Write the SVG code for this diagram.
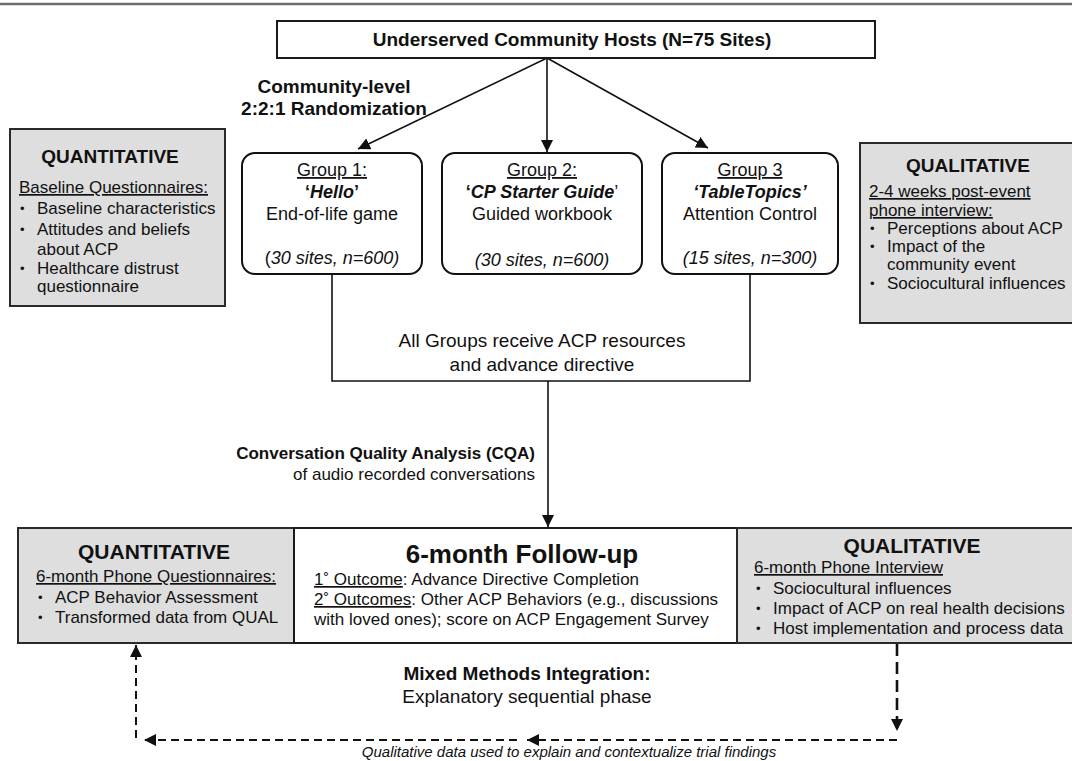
<svg xmlns="http://www.w3.org/2000/svg" width="1072" height="761" viewBox="0 0 1072 761">
  <style>
    text { font-family: "Liberation Sans", Arial, sans-serif; fill: #111; }
    .b { font-weight: bold; }
    .i { font-style: italic; }
    .u { text-decoration: underline; }
    .c { text-anchor: middle; }
    .e { text-anchor: end; }
    .box { fill: #ffffff; stroke: #1a1a1a; stroke-width: 2; }
    .gray { fill: #dedede; stroke: #2a2a2a; stroke-width: 2; }
    .grp { fill: #ffffff; stroke: #111; stroke-width: 2; }
    .line { fill: none; stroke: #111; stroke-width: 1.6; }
    .dash { fill: none; stroke: #111; stroke-width: 2; stroke-dasharray: 8 5; }
    .dashb { fill: none; stroke: #111; stroke-width: 2.6; stroke-dasharray: 12 6; }
    .t17 { font-size: 17px; }
    .t18 { font-size: 18px; }
    .t19 { font-size: 19px; }
    .bul { font-size: 13px; }
  </style>
  <defs>
    <marker id="arr" markerUnits="userSpaceOnUse" markerWidth="14" markerHeight="12" refX="12" refY="6" orient="auto">
      <path d="M0,0 L12,6 L0,12 Z" fill="#111"/>
    </marker>
  </defs>

  <!-- page rule -->
  <line x1="0" y1="4" x2="1072" y2="4" stroke="#6e6e6e" stroke-width="2.5"/>

  <!-- connectors -->
  <g id="connectors">
    <line class="line" x1="547" y1="58" x2="358" y2="149" marker-end="url(#arr)"/>
    <line class="line" x1="547" y1="58" x2="547" y2="152" marker-end="url(#arr)"/>
    <line class="line" x1="547" y1="58" x2="708" y2="148" marker-end="url(#arr)"/>
    <path class="line" d="M332,274 V381 H750 V274"/>
    <line class="line" x1="548" y1="381" x2="548" y2="527" marker-end="url(#arr)"/>
    <!-- mixed methods feedback loop -->
    <line class="dashb" x1="897" y1="644" x2="897" y2="731" marker-end="url(#arr)"/>
    <line class="dash" x1="897" y1="740" x2="527" y2="740" marker-end="url(#arr)"/>
    <line class="dash" x1="517" y1="740" x2="144" y2="740" marker-end="url(#arr)"/>
    <line class="dash" x1="136" y1="738" x2="136" y2="645" marker-end="url(#arr)"/>
  </g>

  <g id="hosts">
    <rect class="box" x="277" y="21" width="598" height="37"/>
    <text class="b c t19" x="572" y="46">Underserved Community Hosts (N=75 Sites)</text>
  </g>

  <g id="randomization">
    <text class="b c t19" x="334" y="93">Community-level</text>
    <text class="b c t19" x="334" y="115">2:2:1 Randomization</text>
  </g>

  <g id="quant-baseline">
    <rect class="gray" x="10" y="129" width="215" height="177"/>
    <text class="b c t19" x="110" y="163">QUANTITATIVE</text>
    <text class="u t17" x="19" y="193">Baseline Questionnaires:</text>
    <text class="bul" x="20" y="213">•</text>
    <text class="t17" x="37" y="214">Baseline characteristics</text>
    <text class="bul" x="20" y="234">•</text>
    <text class="t17" x="37" y="235">Attitudes and beliefs</text>
    <text class="t17" x="37" y="255">about ACP</text>
    <text class="bul" x="20" y="273">•</text>
    <text class="t17" x="37" y="274">Healthcare distrust</text>
    <text class="t17" x="37" y="292">questionnaire</text>
  </g>

  <g id="group1">
    <rect class="grp" x="242" y="153" width="180" height="121" rx="13"/>
    <text class="c t18" x="332" y="176"><tspan class="u">Group 1:</tspan></text>
    <text class="c t18 b" x="332" y="198">‘<tspan class="i">Hello</tspan>’</text>
    <text class="c t18" x="332" y="220">End-of-life game</text>
    <text class="c t18" x="332" y="264">(<tspan class="i">30 sites, n=600)</tspan></text>
  </g>

  <g id="group2">
    <rect class="grp" x="442" y="153" width="200" height="121" rx="13"/>
    <text class="c t18" x="542" y="176"><tspan class="u">Group 2:</tspan></text>
    <text class="c t18 b" x="542" y="198">‘<tspan class="i">CP Starter Guide</tspan><tspan font-weight="normal">’</tspan></text>
    <text class="c t18" x="542" y="220">Guided workbook</text>
    <text class="c t18 i" x="542" y="266">(30 sites, n=600)</text>
  </g>

  <g id="group3">
    <rect class="grp" x="662" y="153" width="176" height="121" rx="13"/>
    <text class="c t18" x="750" y="176"><tspan class="u">Group 3</tspan></text>
    <text class="c t18 b i" x="750" y="198">‘TableTopics’</text>
    <text class="c t18" x="750" y="220">Attention Control</text>
    <text class="c t18 i" x="750" y="264">(15 sites, n=300)</text>
  </g>

  <g id="qual-post-event">
    <rect class="gray" x="860" y="143" width="230" height="180"/>
    <text class="b c t19" x="968" y="172">QUALITATIVE</text>
    <text class="u t17" x="869" y="197">2-4 weeks post-event</text>
    <text class="u t17" x="869" y="216">phone interview:</text>
    <text class="bul" x="870" y="233">•</text>
    <text class="t17" x="887" y="234">Perceptions about ACP</text>
    <text class="bul" x="870" y="251">•</text>
    <text class="t17" x="887" y="252">Impact of the</text>
    <text class="t17" x="887" y="270">community event</text>
    <text class="bul" x="870" y="288">•</text>
    <text class="t17" x="887" y="289">Sociocultural influences</text>
  </g>

  <g id="resources">
    <text class="c t19" x="542" y="347">All Groups receive ACP resources</text>
    <text class="c t19" x="542" y="371">and advance directive</text>
  </g>

  <g id="cqa">
    <text class="b e t17" x="535" y="459">Conversation Quality Analysis (CQA)</text>
    <text class="e t17" x="535" y="480">of audio recorded conversations</text>
  </g>

  <g id="quant-followup">
    <rect class="gray" x="18" y="528" width="276" height="115"/>
    <text class="b c" font-size="21" x="154" y="559">QUANTITATIVE</text>
    <text class="u t17" x="36" y="582">6-month Phone Questionnaires:</text>
    <text class="bul" x="38" y="602">•</text>
    <text class="t17" x="55" y="603">ACP Behavior Assessment</text>
    <text class="bul" x="38" y="622">•</text>
    <text class="t17" x="55" y="623">Transformed data from QUAL</text>
  </g>

  <g id="followup">
    <rect class="box" x="294" y="528" width="443" height="115"/>
    <text class="b c" font-size="26" x="522" y="563">6-month Follow-up</text>
    <text class="t17" x="314" y="585"><tspan class="u">1˚ Outcome</tspan>: Advance Directive Completion</text>
    <text class="t17" x="314" y="605"><tspan class="u">2˚ Outcomes</tspan>: Other ACP Behaviors (e.g., discussions</text>
    <text class="t17" x="314" y="625">with loved ones); score on ACP Engagement Survey</text>
  </g>

  <g id="qual-followup">
    <rect class="gray" x="737" y="528" width="350" height="115"/>
    <text class="b c" font-size="21" x="912" y="553">QUALITATIVE</text>
    <text class="u t17" x="754" y="573">6-month Phone Interview</text>
    <text class="bul" x="756" y="593">•</text>
    <text class="t17" x="773" y="594">Sociocultural influences</text>
    <text class="bul" x="756" y="613">•</text>
    <text class="t17" x="773" y="614">Impact of ACP on real health decisions</text>
    <text class="bul" x="756" y="633">•</text>
    <text class="t17" x="773" y="634">Host implementation and process data</text>
  </g>

  <g id="integration">
    <text class="b c t19" x="527" y="680">Mixed Methods Integration:</text>
    <text class="c t19" x="527" y="703">Explanatory sequential phase</text>
    <text class="i c" font-size="15" x="569" y="757">Qualitative data used to explain and contextualize trial findings</text>
  </g>
</svg>
